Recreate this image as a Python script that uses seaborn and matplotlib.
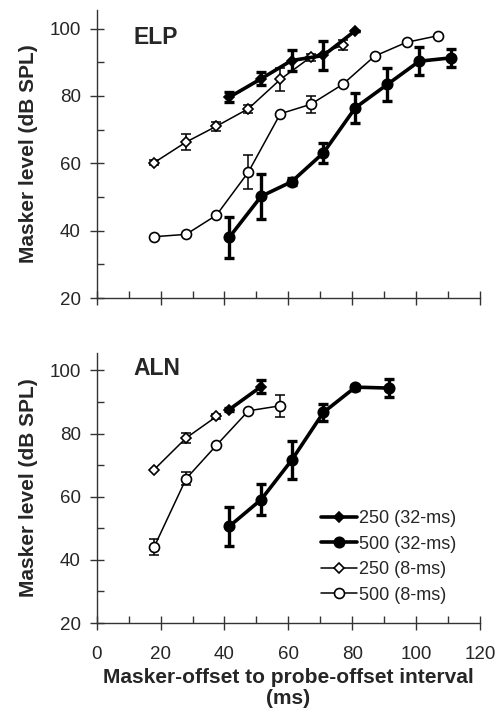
import matplotlib
matplotlib.use("Agg")
import matplotlib.pyplot as plt
import seaborn as sns
import pandas as pd
from matplotlib.ticker import MultipleLocator

# ELP (top panel)
elp_x_250_32 = [41.5, 51.5, 61, 71, 81]
elp_y_250_32 = [79.6, 85.1, 90.5, 92, 99.4]
elp_e_250_32 = [1.5, 2, 3, 4.2, 0]

elp_x_500_32 = [41.5, 51.5, 61, 71, 81, 91, 101, 111]
elp_y_500_32 = [38, 50.2, 54.5, 63.1, 76.5, 83.4, 90.3, 91.3]
elp_e_500_32 = [6, 6.6, 1, 3, 4.4, 5, 4.2, 2.7]

elp_x_250_8 = [18, 28, 37.5, 47.5, 57.5, 67, 77]
elp_y_250_8 = [60.2, 66.3, 71, 76.2, 84.9, 91.5, 95]
elp_e_250_8 = [0.8, 2.3, 1.3, 1.2, 3.5, 1, 1.5]

elp_x_500_8 = [18, 28, 37.5, 47.5, 57.5, 67, 77, 87, 97, 107]
elp_y_500_8 = [38.2, 38.9, 44.6, 57.4, 74.7, 77.5, 83.4, 91.8, 95.9, 97.9]
elp_e_500_8 = [0, 0, 0, 5.1, 0, 2.5, 0, 0, 0, 0]

# ALN (bottom panel)
aln_x_250_32 = [41.5, 51.5]
aln_y_250_32 = [87.6, 94.9]
aln_e_250_32 = [0.5, 2.1]

aln_x_500_32 = [41.5, 51.5, 61, 71, 81, 91.5]
aln_y_500_32 = [50.6, 59.1, 71.5, 86.7, 94.7, 94.4]
aln_e_500_32 = [6.2, 5, 6, 2.8, 0.8, 2.8]

aln_x_250_8 = [18, 28, 37.5]
aln_y_250_8 = [68.6, 78.6, 85.4]
aln_e_250_8 = [0, 1.5, 0.8]

aln_x_500_8 = [18, 28, 37.5, 47.5, 57.5]
aln_y_500_8 = [44.1, 65.7, 76.3, 87.2, 88.8]
aln_e_500_8 = [2.5, 2, 0, 0, 3.5]

labels = ["250 (32-ms)", "500 (32-ms)", "250 (8-ms)", "500 (8-ms)"]

sns.set_style("ticks")
plt.rcParams["font.family"] = ["Liberation Sans", "DejaVu Sans"]

# style per series: marker, size, face, line width
styles = {
    "250 (32-ms)": dict(marker="D", ms=5.0, mfc="black", lw=2.6, cap=2.4),
    "500 (32-ms)": dict(marker="o", ms=7.5, mfc="black", lw=2.6, cap=2.4),
    "250 (8-ms)": dict(marker="D", ms=5.0, mfc="white", lw=1.1, cap=1.1),
    "500 (8-ms)": dict(marker="o", ms=7.2, mfc="white", lw=1.1, cap=1.1),
}


def draw_panel(ax, series, title, title_y):
    for lab, x, y, e in series:
        st = styles[lab]
        df = pd.DataFrame({"x": x, "y": y})
        ax.errorbar(x, y, yerr=e, fmt="none", ecolor="black",
                    elinewidth=st["cap"], capsize=3.5, capthick=st["cap"], zorder=2)
        sns.lineplot(data=df, x="x", y="y", ax=ax, color="black", lw=st["lw"],
                     marker=st["marker"], markersize=st["ms"],
                     markerfacecolor=st["mfc"], markeredgecolor="black",
                     markeredgewidth=1.2, label=lab, legend=False, zorder=3,
                     sort=False)
    ax.set_xlim(0, 120)
    ax.set_ylim(20, 105.5)
    ax.xaxis.set_major_locator(MultipleLocator(20))
    ax.xaxis.set_minor_locator(MultipleLocator(10))
    ax.yaxis.set_major_locator(MultipleLocator(20))
    ax.yaxis.set_minor_locator(MultipleLocator(10))
    ax.tick_params(which="major", direction="inout", length=10, width=1,
                   labelsize=13.5, color="#333333")
    ax.tick_params(which="minor", direction="in", length=5, width=1,
                   color="#333333")
    ax.tick_params(axis="y", which="major", pad=6.5)
    ax.tick_params(axis="x", which="major", pad=11.5)
    for s in ["top", "right"]:
        ax.spines[s].set_visible(False)
    for s in ["left", "bottom"]:
        ax.spines[s].set_color("#333333")
        ax.spines[s].set_linewidth(1)
    ax.set_ylabel("Masker level (dB SPL)", fontsize=15, fontweight="bold",
                  labelpad=8)
    ax.set_xlabel("")
    ax.text(0.095, title_y, title, transform=ax.transAxes, fontsize=16.5,
            fontweight="bold", ha="left", va="top")


fig = plt.figure(figsize=(5.02, 7.19), dpi=100)
ax1 = fig.add_axes([0.1926, 0.5855, 0.7635, 0.4006])
ax2 = fig.add_axes([0.1926, 0.1335, 0.7635, 0.3755])

draw_panel(ax1, [
    ("500 (8-ms)", elp_x_500_8, elp_y_500_8, elp_e_500_8),
    ("250 (8-ms)", elp_x_250_8, elp_y_250_8, elp_e_250_8),
    ("500 (32-ms)", elp_x_500_32, elp_y_500_32, elp_e_500_32),
    ("250 (32-ms)", elp_x_250_32, elp_y_250_32, elp_e_250_32),
], "ELP", 0.945)
ax1.tick_params(axis="x", labelbottom=False)

draw_panel(ax2, [
    ("500 (8-ms)", aln_x_500_8, aln_y_500_8, aln_e_500_8),
    ("250 (8-ms)", aln_x_250_8, aln_y_250_8, aln_e_250_8),
    ("500 (32-ms)", aln_x_500_32, aln_y_500_32, aln_e_500_32),
    ("250 (32-ms)", aln_x_250_32, aln_y_250_32, aln_e_250_32),
], "ALN", 0.985)
ax2.set_xlabel("Masker-offset to probe-offset interval\n(ms)", fontsize=15,
               fontweight="bold", labelpad=4, linespacing=1.1)

handles, labs = ax2.get_legend_handles_labels()
order = [labs.index(l) for l in labels]
ax2.legend([handles[i] for i in order], labels, loc="upper left",
           bbox_to_anchor=(0.585, 0.418), frameon=False, fontsize=13,
           handlelength=2.0, handletextpad=0.1, labelspacing=0.47,
           borderpad=0, borderaxespad=0)

fig.savefig("out.png", dpi=100)
